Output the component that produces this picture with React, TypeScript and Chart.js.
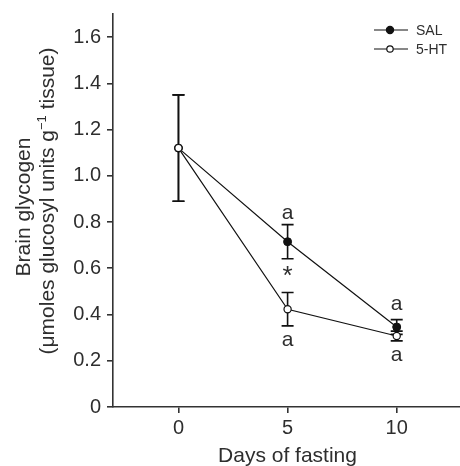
import { useEffect, useRef } from 'react';
import { Chart, registerables } from 'chart.js';

Chart.register(...registerables);

// Brain glycogen during fasting, saline vs 5-HT treated groups (mean ± SE)
const days = [0, 5, 10];
const salMean = [1.12, 0.715, 0.346];
const salSE = [0.23, 0.074, 0.032];
const htMean = [1.12, 0.423, 0.307];
const htSE = [0.23, 0.072, 0.021];

const xTicks = [0, 5, 10];
const yTicks = [0, 0.2, 0.4, 0.6, 0.8, 1.0, 1.2, 1.4, 1.6];

// Significance marks placed in data coordinates
const markDays = [5, 5, 5, 10, 10];
const markValues = [0.837, 0.589, 0.286, 0.445, 0.224];
const markTexts = ['a', '*', 'a', 'a', 'a'];

const FONT = '"Liberation Sans", Arial, Helvetica, sans-serif';
const INK = '#2e2e2e';
const LINE = '#111111';

export default function App() {
  const ref = useRef<HTMLCanvasElement>(null);

  useEffect(() => {
    if (!ref.current) return;

    const errorBars = {
      id: 'errorBars',
      beforeDatasetsDraw(chart: any) {
        const { ctx } = chart;
        const xs = chart.scales.x;
        const ys = chart.scales.y;
        const groups = [
          { mean: salMean, se: salSE },
          { mean: htMean, se: htSE },
        ];
        ctx.save();
        ctx.strokeStyle = LINE;
        ctx.lineWidth = 1.6;
        for (const g of groups) {
          days.forEach((d, i) => {
            const x = xs.getPixelForValue(d);
            const yt = ys.getPixelForValue(g.mean[i] + g.se[i]);
            const yb = ys.getPixelForValue(g.mean[i] - g.se[i]);
            ctx.beginPath();
            ctx.moveTo(x, yt);
            ctx.lineTo(x, yb);
            ctx.moveTo(x - 6, yt);
            ctx.lineTo(x + 6, yt);
            ctx.moveTo(x - 6, yb);
            ctx.lineTo(x + 6, yb);
            ctx.stroke();
          });
        }
        ctx.restore();
      },
    };

    const marks = {
      id: 'marks',
      afterDatasetsDraw(chart: any) {
        const { ctx } = chart;
        const xs = chart.scales.x;
        const ys = chart.scales.y;
        ctx.save();
        ctx.fillStyle = INK;
        ctx.textAlign = 'center';
        ctx.textBaseline = 'alphabetic';
        markTexts.forEach((t, i) => {
          ctx.font = `${t === '*' ? 26 : 21}px ${FONT}`;
          const x = xs.getPixelForValue(markDays[i]);
          const cy = ys.getPixelForValue(markValues[i]);
          const m = ctx.measureText(t);
          const y = cy + (m.actualBoundingBoxAscent - m.actualBoundingBoxDescent) / 2;
          ctx.fillText(t, x, y);
        });
        ctx.restore();
      },
    };

    const legendAndTitles = {
      id: 'legendAndTitles',
      afterDraw(chart: any) {
        const { ctx, chartArea } = chart;
        ctx.save();

        // legend
        const entries = [
          { label: 'SAL', fill: LINE, r: 3.6, y: 30 },
          { label: '5-HT', fill: '#ffffff', r: 3.2, y: 49 },
        ];
        ctx.font = `14px ${FONT}`;
        ctx.textBaseline = 'middle';
        ctx.textAlign = 'left';
        for (const e of entries) {
          ctx.strokeStyle = LINE;
          ctx.lineWidth = 1.2;
          ctx.beginPath();
          ctx.moveTo(374, e.y);
          ctx.lineTo(408, e.y);
          ctx.stroke();
          ctx.beginPath();
          ctx.arc(390, e.y, e.r, 0, Math.PI * 2);
          ctx.fillStyle = e.fill;
          ctx.fill();
          ctx.stroke();
          ctx.fillStyle = INK;
          ctx.fillText(e.label, 416, e.y + 1);
        }

        // x title
        ctx.fillStyle = INK;
        ctx.font = `21px ${FONT}`;
        ctx.textAlign = 'center';
        ctx.textBaseline = 'alphabetic';
        ctx.fillText('Days of fasting', (chartArea.left + chartArea.right) / 2 + 1, 462);

        // y title, two rotated lines
        ctx.save();
        ctx.translate(30, 207);
        ctx.rotate(-Math.PI / 2);
        ctx.fillText('Brain glycogen', 0, 0);
        ctx.restore();

        ctx.save();
        ctx.translate(54, 201);
        ctx.rotate(-Math.PI / 2);
        const p1 = '(\u03bcmoles glucosyl units g';
        const sup = '\u22121';
        const p2 = ' tissue)';
        ctx.font = `21px ${FONT}`;
        const w1 = ctx.measureText(p1).width;
        const w2 = ctx.measureText(p2).width;
        ctx.font = `13px ${FONT}`;
        const ws = ctx.measureText(sup).width;
        const total = w1 + ws + w2;
        let x0 = -total / 2;
        ctx.textAlign = 'left';
        ctx.font = `21px ${FONT}`;
        ctx.fillText(p1, x0, 0);
        x0 += w1;
        ctx.font = `13px ${FONT}`;
        ctx.fillText(sup, x0, -8);
        x0 += ws;
        ctx.font = `21px ${FONT}`;
        ctx.fillText(p2, x0, 0);
        ctx.restore();

        ctx.restore();
      },
    };

    const axisCommon = {
      border: { display: true, color: '#333333', width: 1.6 },
      grid: {
        display: true,
        drawOnChartArea: false,
        drawTicks: true,
        tickLength: 6,
        color: '#333333',
        lineWidth: 1.6,
      },
    };

    const chart = new Chart(ref.current, {
      type: 'line',
      data: {
        datasets: [
          {
            label: '5-HT',
            data: days.map((d, i) => ({ x: d, y: htMean[i] })),
            borderColor: LINE,
            borderWidth: 1.2,
            pointRadius: 3.6,
            pointBorderWidth: 1.2,
            pointBackgroundColor: '#ffffff',
            pointBorderColor: LINE,
            tension: 0,
          },
          {
            label: 'SAL',
            data: days.map((d, i) => ({ x: d, y: salMean[i] })),
            borderColor: LINE,
            borderWidth: 1.2,
            pointRadius: 4,
            pointBorderWidth: 1,
            pointBackgroundColor: LINE,
            pointBorderColor: LINE,
            tension: 0,
          },
        ],
      },
      options: {
        responsive: false,
        maintainAspectRatio: false,
        animation: false,
        layout: { autoPadding: false, padding: { top: 14, left: 0, right: 0, bottom: 0 } },
        plugins: {
          legend: { display: false },
          tooltip: { enabled: false },
          title: { display: false },
        },
        scales: {
          x: {
            type: 'linear',
            min: -3,
            max: 12.9,
            ...axisCommon,
            afterBuildTicks: (s: any) => {
              s.ticks = xTicks.map((v) => ({ value: v }));
            },
            afterFit: (s: any) => {
              s.height = 59;
              s.paddingLeft = 0;
              s.paddingRight = 0;
            },
            ticks: {
              color: INK,
              font: { family: FONT, size: 20 },
              padding: 3,
              maxRotation: 0,
              callback: (v: any) => String(v),
            },
          },
          y: {
            type: 'linear',
            min: 0,
            max: 1.7,
            ...axisCommon,
            afterBuildTicks: (s: any) => {
              s.ticks = yTicks.map((v) => ({ value: v }));
            },
            afterFit: (s: any) => {
              s.width = 113;
              s.paddingTop = 0;
              s.paddingBottom = 0;
            },
            ticks: {
              color: INK,
              font: { family: FONT, size: 20 },
              padding: 6,
              callback: (v: any) => (Number(v) === 0 ? '0' : Number(v).toFixed(1)),
            },
          },
        },
      },
      plugins: [errorBars, marks, legendAndTitles],
    } as any);

    return () => chart.destroy();
  }, []);

  return (
    <div style={{ position: 'fixed', left: 0, top: 0, width: 460, height: 466, background: '#ffffff' }}>
      <canvas ref={ref} width={460} height={466} style={{ display: 'block' }} />
    </div>
  );
}
